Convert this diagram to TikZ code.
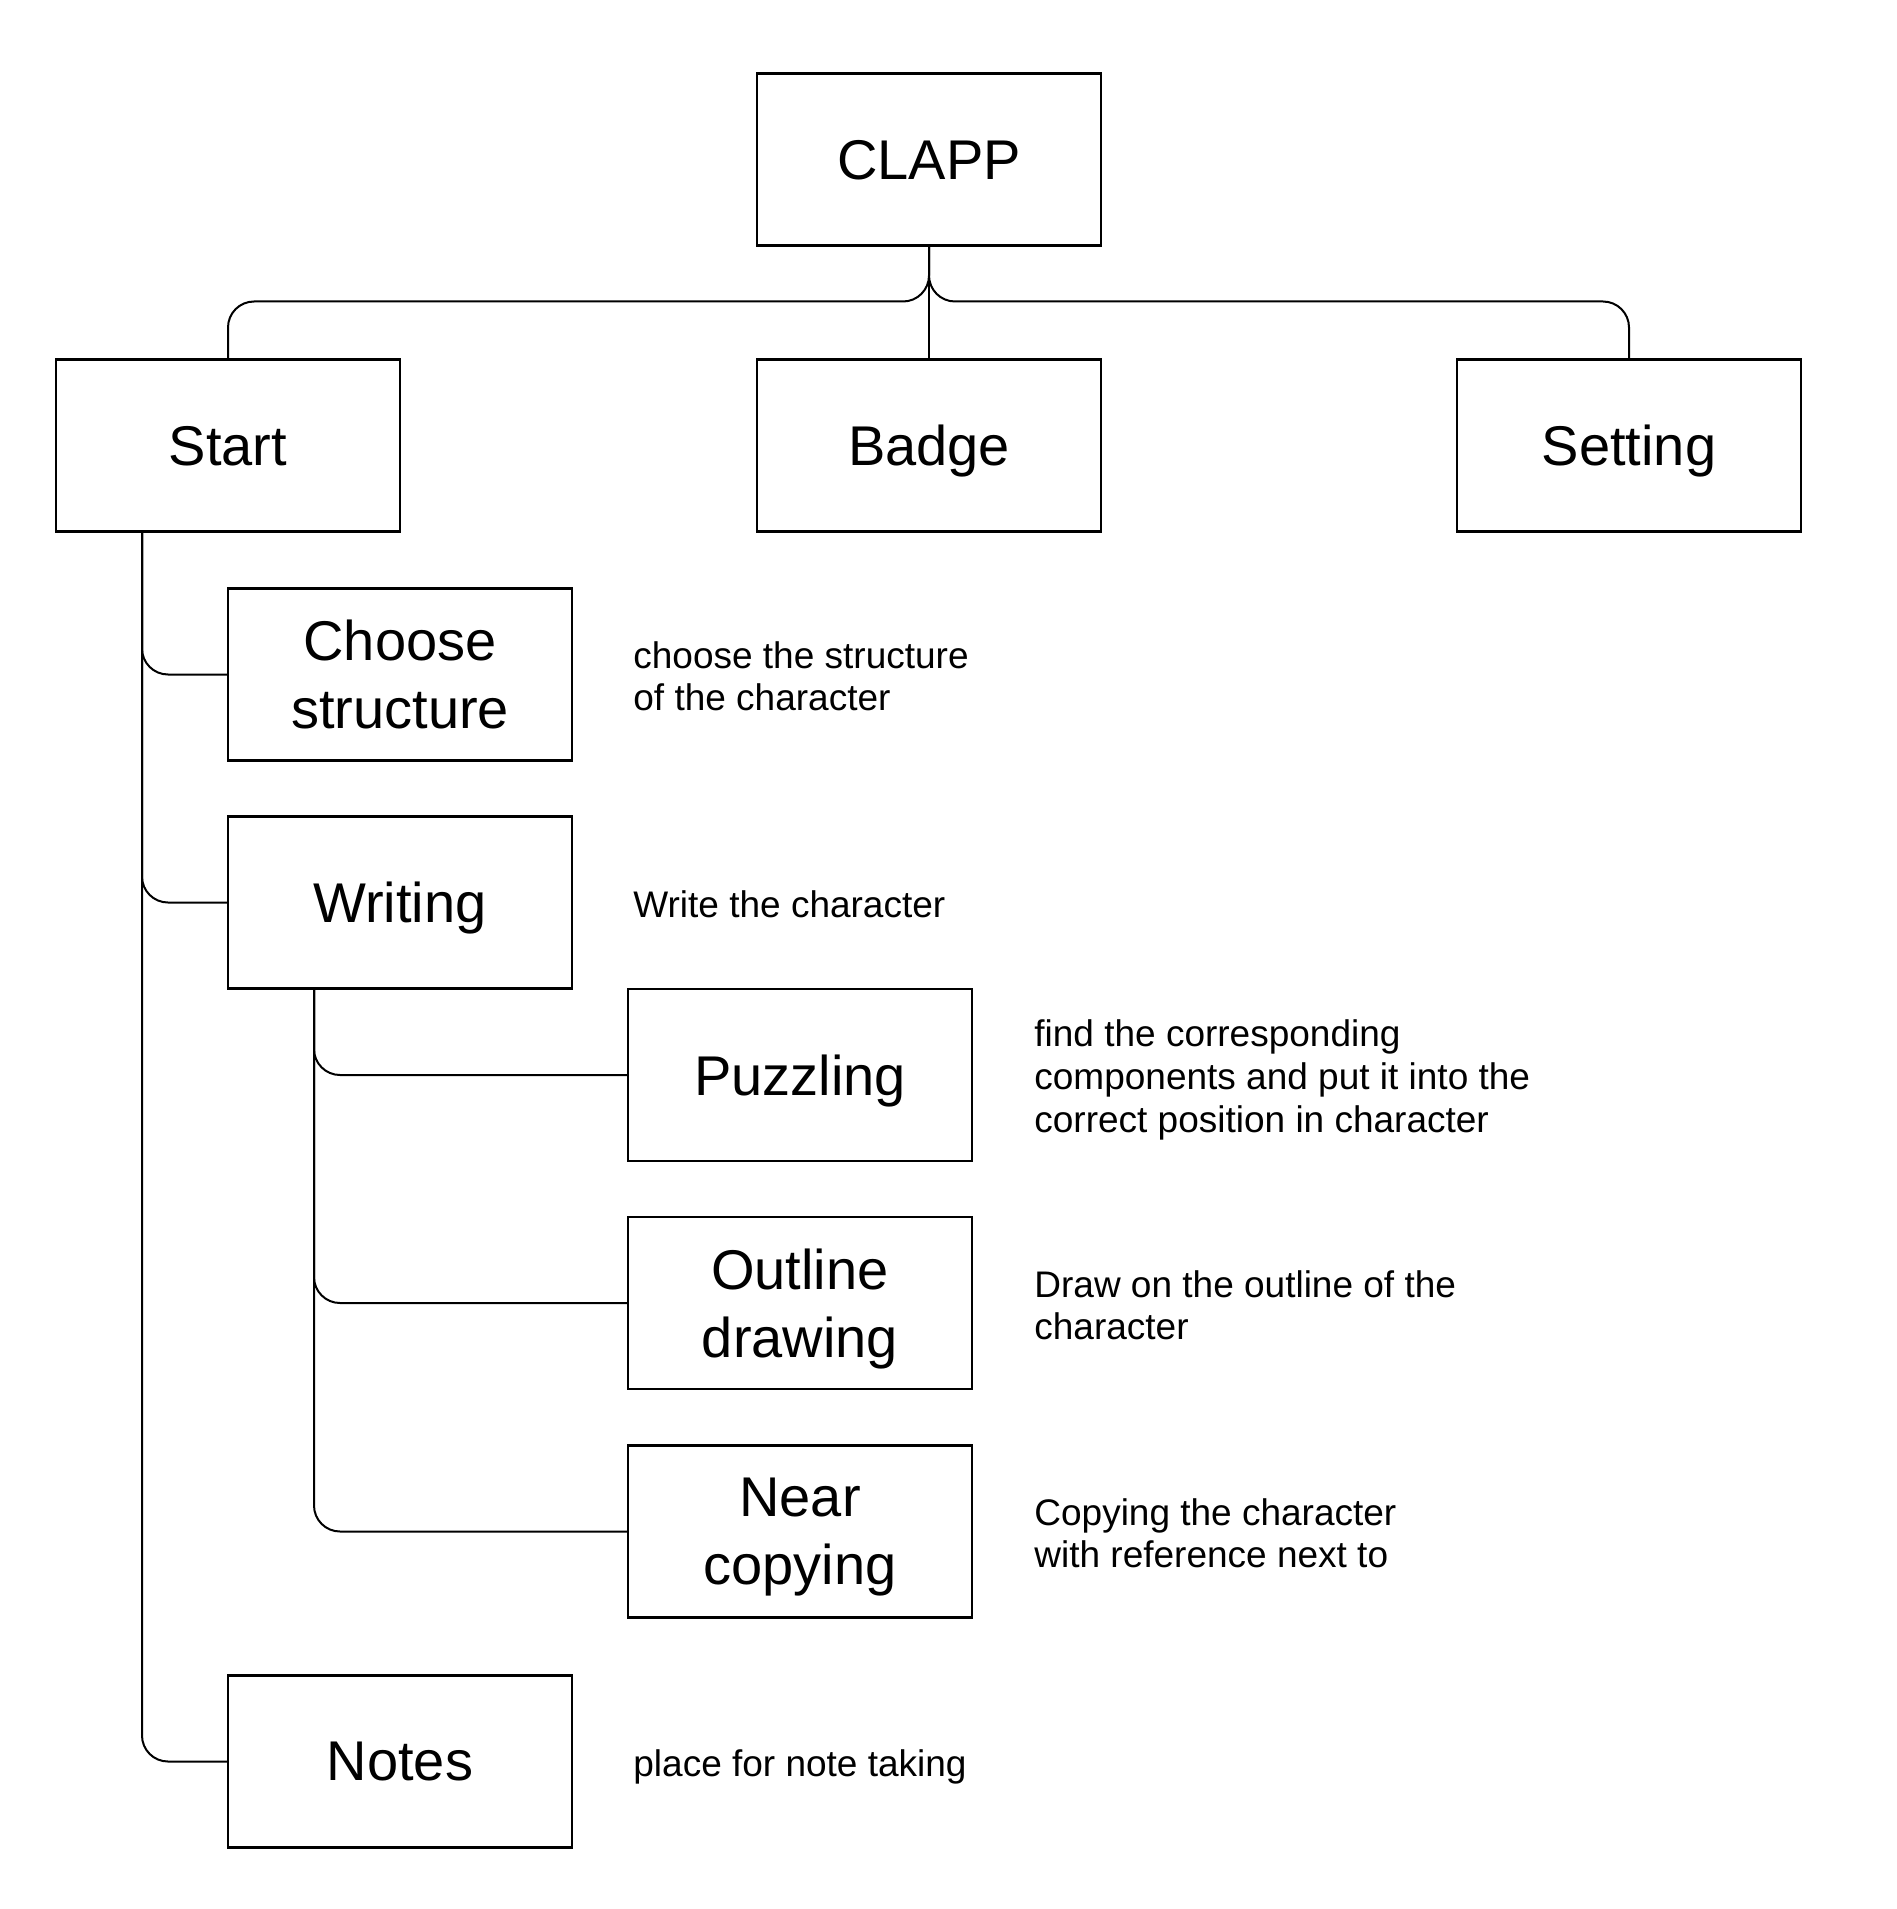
\documentclass[tikz,border=0pt]{standalone}
\usepackage{fontspec}
\setmainfont{Liberation Sans}
\usetikzlibrary{calc}
\begin{document}
\begin{tikzpicture}[x=0.5pt,y=-0.5pt,
  box/.style={draw=black, line width=1.4pt, minimum width=172pt, minimum height=86pt,
    inner sep=0pt, outer sep=0pt, align=center, text depth=0pt, font=\fontsize{28}{34}\selectfont},
  desc/.style={anchor=west, align=left, inner sep=0pt, text depth=0pt, font=\fontsize{18.5}{21.3}\selectfont},
  conn/.style={draw=black, line width=1pt, rounded corners=13pt}]
\useasboundingbox (0,0) rectangle (1896,1909);
% top level
\node[box] (clapp) at (929,159.5) {CLAPP};
\node[box] (start) at (228,445.5) {Start};
\node[box] (badge) at (929,445.5) {Badge};
\node[box] (setting) at (1629,445.5) {Setting};
% second level
\node[box] (choose) at (400,674.5) {Choose\\structure};
\node[box] (writing) at (400,902.5) {Writing};
\node[box] (notes) at (400,1761.5) {Notes};
% third level
\node[box] (puzzling) at (800,1075) {Puzzling};
\node[box] (outline) at (800,1303) {Outline\\drawing};
\node[box] (near) at (800,1531.5) {Near\\copying};
% descriptions
\node[desc] (dchoose) at (633,676) {choose the structure\\of the character};
\node[desc] (dwriting) at (633,904) {Write the character};
\node[desc] (dpuzzling) at (1034,1076) {find the corresponding\\components and put it into the\\correct position in character};
\node[desc] (doutline) at (1034,1305) {Draw on the outline of the\\character};
\node[desc] (dnear) at (1034,1533) {Copying the character\\with reference next to};
\node[desc] (dnotes) at (633,1763) {place for note taking};
% connectors
\coordinate (bus) at ($(clapp.south)+(0,56)$);
\draw[conn] (clapp.south) -- (bus) -| (start.north);
\draw[conn] (clapp.south) -- (bus) -| (setting.north);
\draw[line width=1pt] (clapp.south) -- (badge.north);
\coordinate (strunk) at ($(start.south west)!0.25!(start.south east)$);
\draw[conn] (strunk) |- (choose.west);
\draw[conn] (strunk) |- (writing.west);
\draw[conn] (strunk) |- (notes.west);
\coordinate (wtrunk) at ($(writing.south west)!0.25!(writing.south east)$);
\draw[conn] (wtrunk) |- (puzzling.west);
\draw[conn] (wtrunk) |- (outline.west);
\draw[conn] (wtrunk) |- (near.west);
\end{tikzpicture}
\end{document}
